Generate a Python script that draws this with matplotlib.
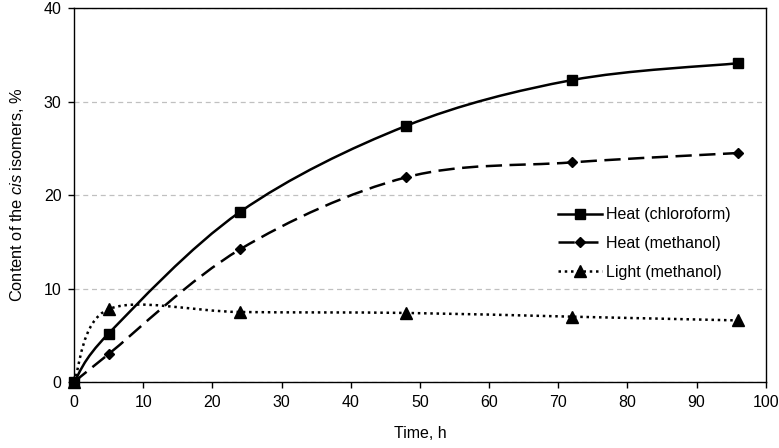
import numpy as np
import matplotlib
matplotlib.use("Agg")
import matplotlib.pyplot as plt
from matplotlib.path import Path
from matplotlib.patches import PathPatch
from matplotlib.lines import Line2D

plt.rcParams['font.family'] = ['Liberation Sans', 'DejaVu Sans']
plt.rcParams['mathtext.fontset'] = 'custom'
plt.rcParams['mathtext.it'] = 'Liberation Sans:italic'
plt.rcParams['mathtext.rm'] = 'Liberation Sans'

time_h = [0, 5, 24, 48, 72, 96]
heat_chloroform = [0, 5.2, 18.2, 27.4, 32.3, 34.1]
heat_methanol = [0, 3.0, 14.2, 21.9, 23.5, 24.5]
light_methanol = [0, 7.8, 7.5, 7.4, 7.0, 6.6]
series_names = ["Heat (chloroform)", "Heat (methanol)", "Light (methanol)"]
x_ticks = [0, 10, 20, 30, 40, 50, 60, 70, 80, 90, 100]
y_ticks = [0, 10, 20, 30, 40]


def smooth_path(xs, ys):
    """Excel-like smoothed line: cubic Bezier through the data points."""
    p = np.column_stack([xs, ys]).astype(float)
    n = len(p)
    verts = [p[0]]
    codes = [Path.MOVETO]
    for i in range(n - 1):
        p_prev = p[i - 1] if i > 0 else p[i]
        p_next2 = p[i + 2] if i + 2 < n else p[i + 1]
        c1 = p[i] + (p[i + 1] - p_prev) / 6.0
        c2 = p[i + 1] - (p_next2 - p[i]) / 6.0
        verts += [c1, c2, p[i + 1]]
        codes += [Path.CURVE4] * 3
    return Path(verts, codes)


FS = 11.5
fig = plt.figure(figsize=(7.79, 4.48), dpi=100)
ax = fig.add_axes([0.095, 0.147, 0.888, 0.835])

styles = [
    dict(ls='-', marker='s', ms=7, lw=1.8),
    dict(ls=(0, (6.5, 3.0)), marker='D', ms=5, lw=1.8),
    dict(ls=(0, (1, 1.5)), marker='^', ms=9, lw=1.8),
]
data = [heat_chloroform, heat_methanol, light_methanol]
handles = []
for ys, st, name in zip(data, styles, series_names):
    patch = PathPatch(smooth_path(time_h, ys), fill=False, edgecolor='black',
                      lw=st['lw'], linestyle=st['ls'], zorder=3)
    ax.add_patch(patch)
    ax.plot(time_h, ys, linestyle='none', marker=st['marker'], ms=st['ms'],
            color='black', zorder=4, clip_on=False)
    handles.append(Line2D([], [], color='black', lw=st['lw'], linestyle=st['ls'],
                          marker=st['marker'], ms=st['ms']))

ax.set_xlim(0, 100)
ax.set_ylim(0, 40)
ax.set_xticks(x_ticks)
ax.set_yticks(y_ticks)
ax.tick_params(axis='both', direction='out', length=4, width=1, labelsize=FS,
               colors='black', pad=5)
for s in ax.spines.values():
    s.set_color('black')
    s.set_linewidth(1)
ax.yaxis.grid(True, color='#c0c0c0', linestyle=(0, (4, 3)), lw=0.9)
ax.set_axisbelow(True)

ax.set_xlabel('Time, h', fontsize=FS, labelpad=12)
ax.set_ylabel(r'Content of the $\mathit{cis}$ isomers, %', fontsize=11.8, labelpad=13)

leg = ax.legend(handles, series_names, loc='upper left', bbox_to_anchor=(0.699, 0.467),
                frameon=False, fontsize=FS, handlelength=2.8, handletextpad=0.25,
                labelspacing=0.85, numpoints=1, borderpad=0, borderaxespad=0)

fig.savefig('out.png', dpi=100)
